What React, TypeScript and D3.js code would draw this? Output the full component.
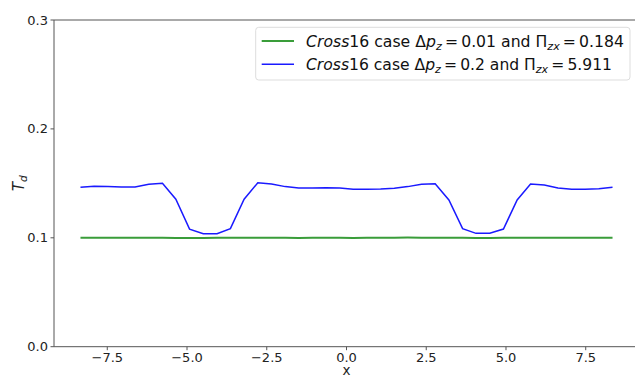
import { scaleLinear, line } from "d3";

// x positions of the cell centres
const xs = [
    -8.34, -7.91, -7.48, -7.06, -6.63, -6.2, -5.77, -5.35, -4.92, -4.49, -4.06, -3.64, -3.21, -2.78, -2.35, -1.92,
    -1.5, -1.07, -0.64, -0.21, 0.21, 0.64, 1.07, 1.5, 1.92, 2.35, 2.78, 3.21, 3.64, 4.06, 4.49, 4.92, 5.35, 5.77, 6.2,
    6.63, 7.06, 7.48, 7.91, 8.34,
];

const lowCase = [
    0.1001, 0.1001, 0.1, 0.1, 0.1001, 0.1, 0.1, 0.0999, 0.0999, 0.0999, 0.1, 0.1, 0.1, 0.1001, 0.1, 0.1, 0.0999,
    0.1, 0.1, 0.1, 0.0999, 0.1, 0.1, 0.1001, 0.1002, 0.1001, 0.1001, 0.1, 0.1, 0.0999, 0.0999, 0.1, 0.1, 0.1,
    0.1, 0.1001, 0.1001, 0.1001, 0.1001, 0.1,
];

const highCase = [
    0.1464, 0.1473, 0.147, 0.1467, 0.1467, 0.1491, 0.15, 0.1354, 0.108, 0.1038, 0.1038, 0.1084, 0.1354, 0.1506,
    0.1494, 0.147, 0.1457, 0.1457, 0.146, 0.1457, 0.1445, 0.1445, 0.1448, 0.1454, 0.147, 0.1491, 0.1497, 0.1348,
    0.1084, 0.1041, 0.1041, 0.108, 0.1348, 0.1494, 0.1485, 0.1457, 0.1445, 0.1445, 0.1451, 0.1464,
];

const xTicks = [-7.5, -5.0, -2.5, 0.0, 2.5, 5.0, 7.5];
const yTicks = [0.0, 0.1, 0.2, 0.3];

const W = 635;
const H = 378;
const left = 54;
const right = 639;
const top = 20;
const bottom = 346.7;

const font = "'DejaVu Sans', sans-serif";
const axisColor = "#555";

export default function App() {
    const x = scaleLinear().domain([-9.17, 9.17]).range([left, right]);
    const y = scaleLinear().domain([0, 0.3]).range([bottom, top]);

    const mk = (vals: number[]) =>
        line<number>()
            .x((_, i) => x(xs[i]))
            .y((v) => y(v))(vals) ?? "";

    const fmt = (v: number) => (v < 0 ? "\u2212" : "") + Math.abs(v).toFixed(1);

    const legendRows = [
        { color: "#3a9d3a", width: 2, dp: "0.01", pi: "0.184", len: 318 },
        { color: "#1a1aff", width: 1.5, dp: "0.2", pi: "5.911", len: 306 },
    ];

    return (
        <svg width={W} height={H} style={{ position: "absolute", left: 0, top: 0, background: "#fff" }} fontFamily={font}>
            <path d={mk(lowCase)} fill="none" stroke="#3a9d3a" strokeWidth={2} />
            <path d={mk(highCase)} fill="none" stroke="#1a1aff" strokeWidth={1.5} />

            {/* spines */}
            <line x1={left} x2={left} y1={top} y2={bottom} stroke={axisColor} strokeWidth={1} />
            <line x1={left} x2={right} y1={top} y2={top} stroke={axisColor} strokeWidth={1} />
            <line x1={left} x2={right} y1={bottom} y2={bottom} stroke={axisColor} strokeWidth={1} />

            {xTicks.map((t) => (
                <g key={t} transform={`translate(${x(t)},${bottom})`}>
                    <line y2={3.5} stroke={axisColor} />
                    <text y={15} textAnchor="middle" fontSize={13} fill="#222">
                        {fmt(t)}
                    </text>
                </g>
            ))}
            {yTicks.map((t) => (
                <g key={t} transform={`translate(${left},${y(t)})`}>
                    <line x2={-3.5} stroke={axisColor} />
                    <text x={-6} dy="0.35em" textAnchor="end" fontSize={13} fill="#222">
                        {t.toFixed(1)}
                    </text>
                </g>
            ))}

            <text x={x(0)} y={375} textAnchor="middle" fontSize={13.5} fill="#222">
                x
            </text>
            <text transform={`translate(24,${(top + bottom) / 2}) rotate(-90)`} textAnchor="middle" fontSize={15} fill="#222">
                <tspan fontStyle="italic">T</tspan>
                <tspan fontStyle="italic" fontSize={10.5} dy={3}>
                    d
                </tspan>
            </text>

            {/* legend */}
            <rect x={255.7} y={27.3} width={374.3} height={52.7} rx={3} fill="#fff" fillOpacity={0.8} stroke="#ddd" />
            {legendRows.map((r, i) => {
                const cy = 41 + i * 23.3;
                return (
                    <g key={i}>
                        <line x1={261.7} x2={294} y1={cy} y2={cy} stroke={r.color} strokeWidth={r.width} />
                        <text
                            x={306}
                            y={cy + 5.5}
                            fontSize={15.5}
                            fill="#111"
                            textLength={r.len}
                            lengthAdjust="spacingAndGlyphs"
                        >
                            <tspan fontStyle="italic">Cross</tspan>
                            <tspan>16 case Δ</tspan>
                            <tspan fontStyle="italic">p</tspan>
                            <tspan fontStyle="italic" fontSize={11} dy={3}>
                                z
                            </tspan>
                            <tspan dy={-3}>{`\u2009=\u2009${r.dp} and Π`}</tspan>
                            <tspan fontStyle="italic" fontSize={11} dy={3}>
                                zx
                            </tspan>
                            <tspan dy={-3}>{`\u2009=\u2009${r.pi}`}</tspan>
                        </text>
                    </g>
                );
            })}
        </svg>
    );
}
